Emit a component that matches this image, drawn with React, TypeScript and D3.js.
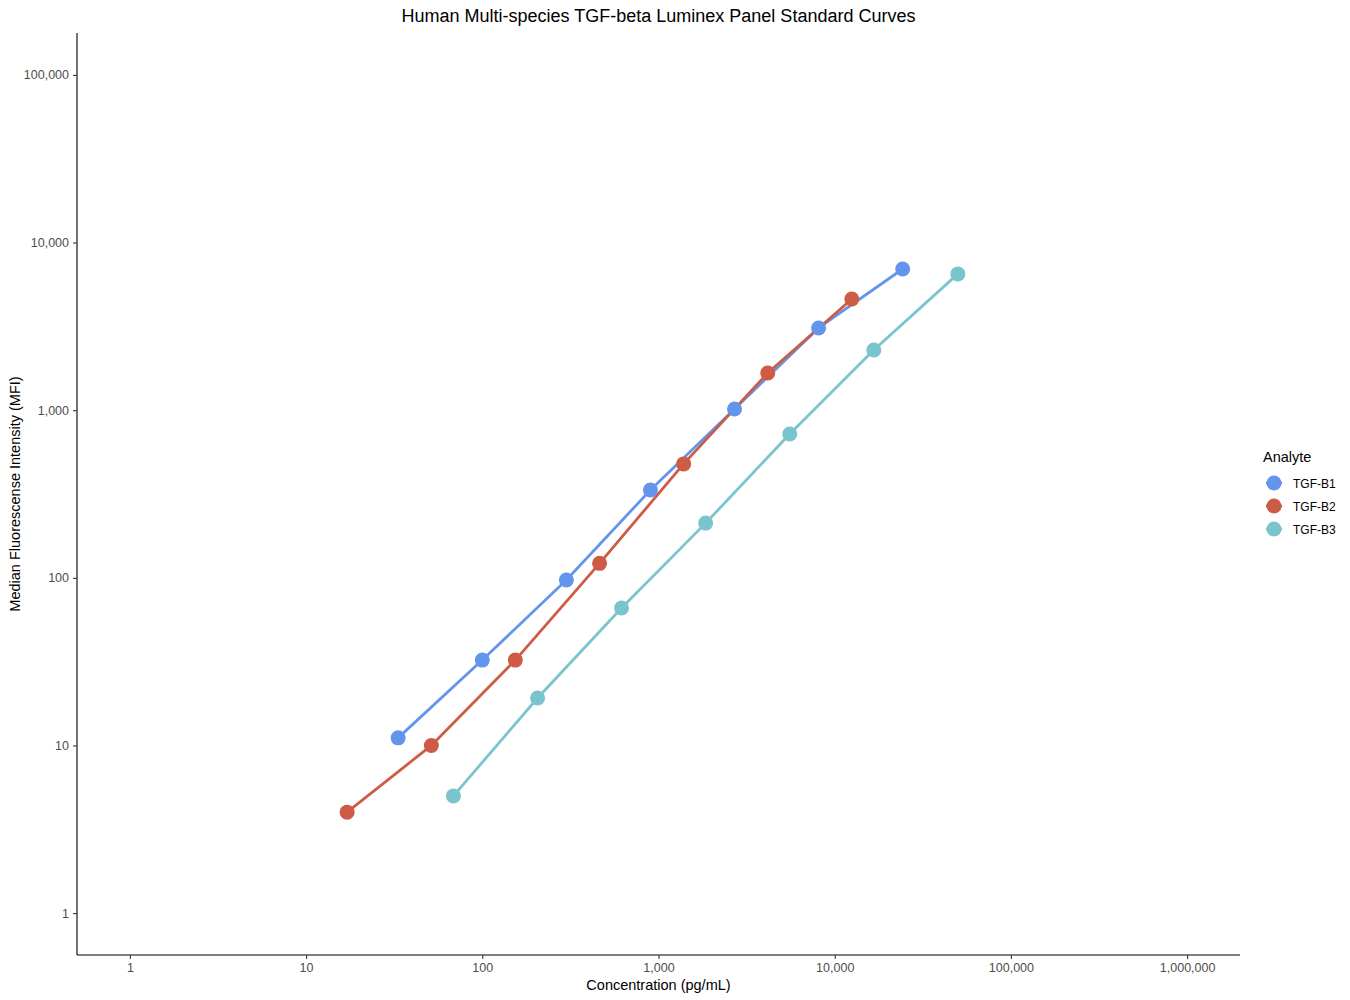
import React, { useEffect, useRef } from 'react';
import * as d3 from 'd3';

// standard curve values (3-fold dilutions)
const analytes = ['TGF-B1', 'TGF-B2', 'TGF-B3'];
const colors = ['#6495ED', '#CD5B45', '#7AC5CD'];

const b1Conc = [33.3, 100, 300, 900, 2700, 8100, 24300];
const b1Mfi = [11.1, 32.3, 97, 334, 1016, 3094, 6955];

const b2Conc = [17.1, 51.4, 154, 463, 1389, 4167, 12500];
const b2Mfi = [4.0, 10, 32.3, 122, 478, 1667, 4605];

const b3Conc = [68.6, 206, 617, 1852, 5556, 16667, 50000];
const b3Mfi = [5.0, 19.2, 66, 212, 721, 2286, 6500];

const xTicks = [1, 10, 100, 1000, 10000, 100000, 1000000];
const yTicks = [1, 10, 100, 1000, 10000, 100000];

const App: React.FC = () => {
  const ref = useRef<SVGSVGElement | null>(null);

  useEffect(() => {
    if (!ref.current) return;
    const W = 1350, H = 1000;
    const margin = { top: 33, right: 110, bottom: 45, left: 77 };
    const width = W - margin.left - margin.right;
    const height = H - margin.top - margin.bottom;

    const root = d3.select(ref.current);
    root.selectAll('*').remove();
    root.attr('width', W).attr('height', H)
      .style('position', 'absolute').style('left', '0px').style('top', '0px')
      .style('font-family', 'Arial, "Liberation Sans", sans-serif');

    const svg = root.append('g').attr('transform', `translate(${margin.left},${margin.top})`);

    const x = d3.scaleLog().domain([Math.pow(10, -0.3), Math.pow(10, 6.3)]).range([0, width]);
    const y = d3.scaleLog().domain([Math.pow(10, -0.25), Math.pow(10, 5.25)]).range([height, 0]);
    const fmt = d3.format(',.0f');

    const series = [
      { name: analytes[0], color: colors[0], pts: b1Conc.map((c, i) => [c, b1Mfi[i]]) },
      { name: analytes[1], color: colors[1], pts: b2Conc.map((c, i) => [c, b2Mfi[i]]) },
      { name: analytes[2], color: colors[2], pts: b3Conc.map((c, i) => [c, b3Mfi[i]]) },
    ];

    const line = d3.line<number[]>().x(d => x(d[0])).y(d => y(d[1]));

    series.forEach(s => {
      svg.append('path')
        .datum(s.pts)
        .attr('d', line)
        .attr('fill', 'none')
        .attr('stroke', s.color)
        .attr('stroke-width', 2.8);
    });
    series.forEach(s => {
      svg.selectAll(null)
        .data(s.pts)
        .enter().append('circle')
        .attr('cx', d => x(d[0]))
        .attr('cy', d => y(d[1]))
        .attr('r', 7.5)
        .attr('fill', s.color);
    });

    const xAxis = svg.append('g')
      .attr('transform', `translate(0,${height})`)
      .call(d3.axisBottom(x).tickValues(xTicks).tickFormat(d => fmt(d as number)).tickSize(4).tickPadding(4));
    const yAxis = svg.append('g')
      .call(d3.axisLeft(y).tickValues(yTicks).tickFormat(d => fmt(d as number)).tickSize(4).tickPadding(4));

    [xAxis, yAxis].forEach(a => {
      a.select('.domain').attr('stroke', '#000').attr('stroke-width', 1.1);
      a.selectAll('.tick line').attr('stroke', '#333').attr('stroke-width', 1.1);
      a.selectAll('.tick text').attr('fill', '#4D4D4D').style('font-size', '12.5px')
        .style('font-family', 'Arial, "Liberation Sans", sans-serif');
    });
    // extend the axis lines to the full panel corners
    xAxis.select('.domain').attr('d', `M0,0H${width}`);
    yAxis.select('.domain').attr('d', `M0,0V${height}`);

    root.append('text')
      .attr('x', margin.left + width / 2)
      .attr('y', 22)
      .attr('text-anchor', 'middle')
      .style('font-size', '18px')
      .text('Human Multi-species TGF-beta Luminex Panel Standard Curves');

    root.append('text')
      .attr('x', margin.left + width / 2)
      .attr('y', 990)
      .attr('text-anchor', 'middle')
      .style('font-size', '14.5px')
      .text('Concentration (pg/mL)');

    root.append('text')
      .attr('transform', `translate(20,${margin.top + height / 2}) rotate(-90)`)
      .attr('text-anchor', 'middle')
      .style('font-size', '14.5px')
      .text('Median Fluorescense Intensity (MFI)');

    const legend = root.append('g').attr('transform', 'translate(1263,457)');
    legend.append('text')
      .attr('x', 0).attr('y', 5)
      .style('font-size', '14.5px')
      .text('Analyte');
    series.forEach((s, i) => {
      const g = legend.append('g').attr('transform', `translate(0,${26 + i * 23})`);
      g.append('line').attr('x1', 3).attr('x2', 19).attr('y1', 0).attr('y2', 0)
        .attr('stroke', s.color).attr('stroke-width', 2.8);
      g.append('circle').attr('cx', 11).attr('cy', 0).attr('r', 7.5).attr('fill', s.color);
      g.append('text').attr('x', 30).attr('y', 4.5)
        .style('font-size', '12px').text(s.name);
    });
  }, []);

  return <svg ref={ref}></svg>;
};

export default App;
